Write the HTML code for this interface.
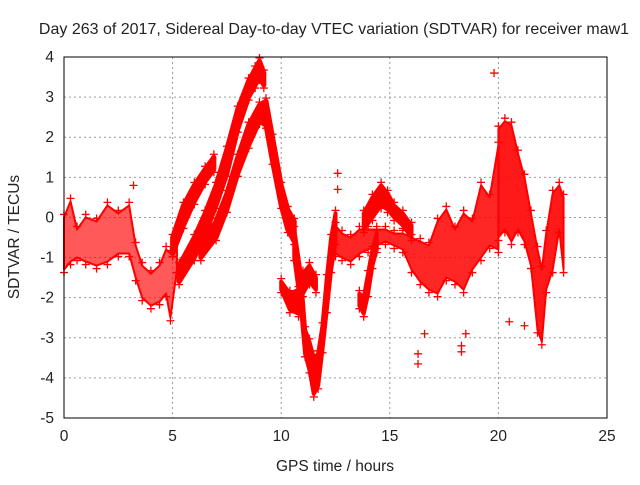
<!DOCTYPE html>
<html><head><meta charset="utf-8"><style>
body{margin:0;background:#fff;}
svg text{font-family:"Liberation Sans",sans-serif;font-size:15.5px;fill:#222;}
#chart .title{font-size:16px;}
</style></head><body>
<svg id="chart" width="640" height="480" viewBox="0 0 640 480">
<rect width="640" height="480" fill="#fff"/>
<text class="title" x="334" y="34" text-anchor="middle">Day 263 of 2017, Sidereal Day-to-day VTEC variation (SDTVAR) for receiver maw1</text>
<text x="335" y="471" text-anchor="middle">GPS time / hours</text>
<text transform="translate(19,237) rotate(-90)" text-anchor="middle">SDTVAR / TECUs</text>
<g id="grid"></g><g id="series"></g>
<rect x="64" y="57" width="543" height="361" fill="none" stroke="#000" stroke-width="1"/>
<g id="ticks"></g>
</svg>
<script>
const xTicks=[0,5,10,15,20,25];
const yTicks=[4,3,2,1,0,-1,-2,-3,-4,-5];
const aT=[0,0.3,0.6,1,1.5,2,2.5,3,3.3,3.6,4,4.4,4.7,4.9,5.2];
const aLo=[-1.3,-1.1,-1.0,-1.1,-1.2,-1.1,-0.9,-0.9,-1.5,-2.0,-2.2,-2.1,-1.9,-2.5,-1.3];
const aHi=[0.0,0.4,-0.3,0.0,-0.1,0.3,0.1,0.3,-0.7,-1.2,-1.4,-1.2,-0.8,-0.9,-0.4];
const bT=[5.0,5.5,6,6.5,6.9];
const bLo=[-0.9,-0.2,0.4,0.9,1.2];
const bHi=[-0.5,0.3,0.8,1.2,1.5];
const cT=[5.3,6,6.5,7,7.5,8,8.5,8.8,9.0,9.2];
const cLo=[-1.6,-1.0,-0.4,0.3,1.1,2.2,3.0,3.3,3.5,3.3];
const cHi=[-1.2,-0.5,0.1,0.8,1.7,2.7,3.4,3.7,3.9,3.6];
const dT=[6.3,7,7.5,8,8.5,9,9.3,9.6,10,10.3,10.6];
const dLo=[-1.0,-0.5,0.2,1.1,1.8,2.4,2.3,1.4,0.3,-0.3,-0.6];
const dHi=[-0.7,-0.1,0.6,1.5,2.3,2.8,2.9,2.0,0.8,0.2,-0.1];
const eT=[10.6,10.9,11.1,11.3,11.5,11.7,11.9,12.1,12.3,12.5];
const eLo=[-1.0,-2.2,-3.4,-3.8,-4.4,-4.2,-3.3,-2.3,-1.3,-0.6];
const eHi=[-0.3,-1.4,-2.8,-3.1,-3.5,-3.4,-2.7,-1.5,-0.5,0.1];
const fT=[10,10.4,10.8,11,11.3,11.6];
const fLo=[-1.8,-2.3,-2.4,-1.9,-1.6,-1.8];
const fHi=[-1.6,-1.9,-1.8,-1.4,-1.2,-1.5];
const gT=[12.5,12.8,13.2,13.6,14,14.4,14.8,15.2,15.6,16,16.4,16.8,17.2,17.6,18,18.4,18.8,19.2,19.6,20];
const gLo=[-0.9,-1.0,-1.1,-0.9,-0.8,-0.7,-0.6,-0.7,-0.8,-1.3,-1.6,-1.8,-1.9,-1.5,-1.6,-1.8,-1.3,-1.0,-0.7,-0.8];
const gHi=[-0.2,-0.4,-0.5,-0.3,-0.3,-0.3,-0.3,-0.4,-0.4,-0.5,-0.6,-0.7,-0.1,0.2,-0.3,0.1,-0.1,0.8,0.5,1.8];
const loopT=[13.8,14.2,14.6,14.9,15.2,15.6,16];
const loopLo=[-0.3,0.0,0.3,0.2,0.0,-0.2,-0.5];
const loopHi=[0.1,0.5,0.8,0.6,0.3,0.1,-0.2];
const hT=[13.6,13.8,14,14.2,14.4];
const hLo=[-2.2,-2.4,-1.9,-1.2,-0.8];
const hHi=[-1.9,-2.0,-1.4,-0.8,-0.4];
const iT=[20,20.3,20.6,20.9,21.2,21.5,21.8,22,22.2,22.5,22.8,23];
const iLo=[-0.5,-0.3,-0.6,-0.3,-0.6,-1.2,-2.8,-3.1,-1.8,-1.3,-0.3,-1.3];
const iHi=[2.2,2.4,2.3,1.6,1.0,0.1,-0.8,-1.3,-0.4,0.6,0.8,0.5];
const outT=[19.8,16.3,16.3,18.3,18.3,21.2,20.5,12.6,12.6,3.2,16.6,18.5];
const outV=[3.6,-3.4,-3.65,-3.2,-3.35,-2.7,-2.6,1.1,0.7,0.8,-2.9,-2.9];
const X=t=>64+t*21.72, Y=v=>57+(4-v)*40.11;
const ns="http://www.w3.org/2000/svg";
const grid=document.getElementById('grid'),ticks=document.getElementById('ticks'),ser=document.getElementById('series');
function mk(tag,a,p){const e=document.createElementNS(ns,tag);for(const k in a)e.setAttribute(k,a[k]);p.appendChild(e);return e;}
xTicks.forEach(t=>{
 if(t>0&&t<25){const g=mk('line',{x1:X(t),x2:X(t),y1:57,y2:418,stroke:'#999','stroke-dasharray':'2,3'},grid);
 
 }
 const l=mk('text',{x:X(t),y:441,'text-anchor':'middle'},ticks);l.textContent=t;
 
 
});
yTicks.forEach(v=>{
 if(v<4&&v>-5){const g=mk('line',{x1:64,x2:607,y1:Y(v),y2:Y(v),stroke:'#999','stroke-dasharray':'2,3'},grid);
 
 }
 const l=mk('text',{x:54,y:Y(v)+5,'text-anchor':'end'},ticks);l.textContent=v;
 
 
});
function plus(x,y,name){const p=mk('path',{d:`M${x-4},${y}h8M${x},${y-4}v8`,stroke:'#f00','stroke-width':1.3},ser);
 
 }
function band(T,Lo,Hi,name,op,sw){
 const top=T.map((t,i)=>X(t)+','+Y(Hi[i]));
 const bot=T.map((t,i)=>X(t)+','+Y(Lo[i])).reverse();
 const pg=mk('polygon',{points:top.concat(bot).join(' '),fill:'#f00','fill-opacity':op,stroke:'#f00','stroke-width':sw,'stroke-linejoin':'round'},ser);
 
 
 T.forEach((t,i)=>{plus(X(t),Y(Hi[i])-3,name+'-point');plus(X(t),Y(Lo[i])+3,name+'-point');});
}
band(aT,aLo,aHi,'early-band',0.65,2);
band(bT,bLo,bHi,'upper-branch',1,5);
band(cT,cLo,cHi,'middle-branch',1,5);
band(dT,dLo,dHi,'lower-branch',1,5);
band(eT,eLo,eHi,'descent-band',1,4);
band(fT,fLo,fHi,'side-branch',1,4);
band(gT,gLo,gHi,'afternoon-band',0.85,2);
band(loopT,loopLo,loopHi,'loop-branch',1,4);
band(hT,hLo,hHi,'deep-branch',1,4);
band(iT,iLo,iHi,'late-band',0.9,2);
outT.forEach((t,i)=>plus(X(t),Y(outV[i]),'outlier-point'));
</script>
</body></html>
